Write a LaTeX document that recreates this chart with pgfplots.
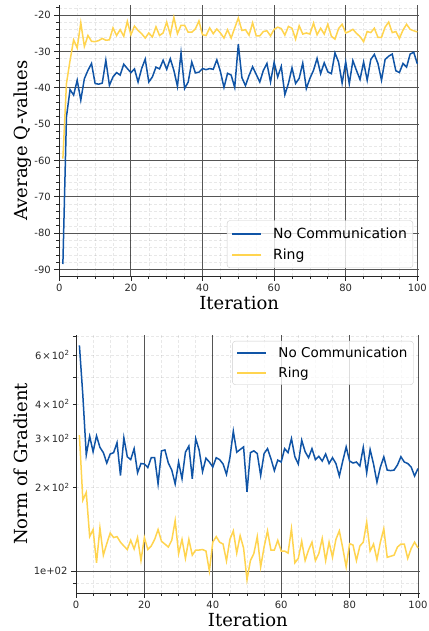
\documentclass[border=0pt]{standalone}
\usepackage{fontspec}
\setmainfont{DejaVu Sans}
\newfontfamily\labelfont{DejaVu Serif}
\usepackage{pgfplots}
\pgfplotsset{compat=1.18}
\usepackage{pgfplotstable}
\definecolor{ncblue}{RGB}{16,84,166}
\definecolor{ringyellow}{RGB}{255,212,79}
\definecolor{majgrid}{RGB}{85,85,85}
\definecolor{spine}{RGB}{40,40,40}

\pgfplotstableread{
x nc ring
1 -88.5 -59.5
2 -48 -38.8
3 -40.5 -32.5
4 -42 -26.8
5 -37.9 -29
6 -43.4 -22.1
7 -37.5 -28.6
8 -35.2 -25.6
9 -33.3 -27.2
10 -38.8 -27.3
11 -39 -27
12 -38.7 -26.4
13 -32.4 -26.9
14 -39.3 -26.8
15 -37 -23.5
16 -35.8 -25.6
17 -36.5 -24
18 -33.5 -25.8
19 -34.7 -21.7
20 -35.8 -25.4
21 -34.8 -23
22 -38.4 -24.2
23 -34.7 -25.1
24 -32.1 -26.3
25 -38.4 -24.9
26 -37 -26
27 -34.3 -23.2
28 -34.8 -25.6
29 -32.4 -24.9
30 -34.9 -21.9
31 -32 -25.4
32 -35.2 -20.6
33 -39.6 -25.1
34 -30.4 -22.8
35 -40.2 -22.8
36 -38.4 -24.7
37 -32.9 -24.7
38 -35.9 -23.8
39 -35.7 -21.6
40 -34.7 -25.4
41 -35 -25.6
42 -34.7 -23.5
43 -34.9 -25.1
44 -32.3 -23.8
45 -35.5 -24.9
46 -39.9 -26.3
47 -36 -24
48 -36.5 -26.3
49 -39.9 -23.5
50 -28 -20.8
51 -37.2 -24.2
52 -39.4 -24
53 -36.6 -25.5
54 -34.2 -22.1
55 -36.3 -25.7
56 -38.4 -25.7
57 -35.2 -24.5
58 -33.3 -24.3
59 -38.4 -25.7
60 -33 -23.9
61 -37 -23.3
62 -34.1 -23.7
63 -41.9 -25.5
64 -38.8 -23.1
65 -34.5 -23.6
66 -38.8 -26.6
67 -37.4 -22.9
68 -33.2 -25.2
69 -40.2 -24.9
70 -37.4 -25.2
71 -35.2 -22.2
72 -31.9 -25.4
73 -36.1 -23.6
74 -33.1 -25.2
75 -35.6 -22.5
76 -36.1 -25.8
77 -30.4 -26.6
78 -32.9 -23.7
79 -38.7 -22.5
80 -32.9 -24.9
81 -38.9 -24.5
82 -32.5 -23.9
83 -35.2 -25
84 -37.7 -25.9
85 -32.9 -27.3
86 -37.9 -24.5
87 -32.2 -24.8
88 -30.8 -23.6
89 -33.3 -26.1
90 -37.9 -26.1
91 -32.2 -23.3
92 -31.3 -21.9
93 -30.7 -24.8
94 -35.3 -24.5
95 -35.8 -26.4
96 -33.3 -24.1
97 -34.3 -22.5
98 -30.7 -23.9
99 -30.2 -24.3
100 -33.4 -24.6
}\qtable

\pgfplotstableread{
x nc ring
1 650 309
2 430 180
3 262 192
4 306 133
5 269 141
6 307 107
7 279 143
8 267 114
9 245 125.5
10 264 137
11 267 132
12 290 133
13 221 127
14 302 123
15 258 119.5
16 252 129
17 276 120
18 226 132
19 244 109
20 243 132
21 236 119.5
22 256 123
23 256 130
24 206 141
25 271 128
26 273 125
27 245 122
28 231 129
29 206 152
30 247 115.5
31 215 130
32 268 111
33 282 130
34 215 114
35 300 119
36 273 119
37 228 119.5
38 255 118
39 247 100
40 237 127
41 256 133
42 252 127
43 243 125
44 223 108.7
45 256 130
46 319 139.5
47 268 116
48 274 134
49 280 121
50 193 93
51 267 109
52 271 115.5
53 265 133
54 221 103.4
55 265 122
56 276 139.5
57 254 119
58 230 119
59 251 129
60 247 118
61 276 118
62 267 116
63 300 142
64 258 107
65 243 111
66 296 128
67 269 109
68 256 119
69 276 127
70 252 109
71 259 115.5
72 249 131
73 264 109
74 244 127
75 256 112
76 244 130
77 220 139.5
78 249 121
79 280 103.4
80 249 125.5
81 245 124
82 247 109
83 239 123
84 279 127
85 226 150
86 274 118
87 243 125
88 209 110
89 237 127
90 258 142
91 231 112
92 230 113
93 231 114
94 241 122
95 258 125
96 247 125
97 244 111
98 237 120.5
99 220 127
100 234 121
}\gtable

\pgfplotsset{
  mystyle/.style={
    scale only axis,
    axis x line*=bottom, axis y line*=left,
    axis line style={spine, line width=0.8pt},
    tick align=outside,
    major tick length=5pt, minor tick length=3pt,
    every tick/.style={spine, line width=0.8pt},
    grid=both,
    major grid style={majgrid, line width=0.9pt},
    minor grid style={black, draw opacity=0.09, line width=0.6pt, dash pattern=on 3pt off 2pt},
    xmin=0, xmax=100.5,
    xtick={0,20,40,60,80,100},
    xticklabels={0,20,40,60,80,100},
    minor xtick={5,10,15,25,30,35,45,50,55,65,70,75,85,90,95},
    tick label style={font=\fontsize{10}{12}\selectfont, text=spine},
    label style={font=\labelfont\fontsize{18}{21}\selectfont},
    xlabel style={yshift=3pt},
    legend style={font=\fontsize{14}{17}\selectfont, rounded corners=3pt,
      draw=black!20, fill=white, fill opacity=0.8, text opacity=1,
      inner xsep=4pt, inner ysep=5pt, row sep=5pt,
      /tikz/every odd column/.append style={column sep=9pt}},
    legend cell align=left,
    legend image code/.code={\draw[##1, solid, line width=2pt] (0pt,0pt) -- (29pt,0pt);},
    every axis plot/.append style={line width=1.5pt},
  }
}

\begin{document}
\begin{tikzpicture}
\useasboundingbox (0,0) rectangle (428pt,631pt);
\begin{axis}[mystyle,
  at={(59.3pt,355pt)}, anchor=south west,
  width=359.8pt, height=271pt,
  ymin=-91.8, ymax=-17.2,
  ytick={-90,-80,-70,-60,-50,-40,-30,-20},
  yticklabels={-90,-80,-70,-60,-50,-40,-30,-20},
  minor ytick={-88,-86,-84,-82,-78,-76,-74,-72,-68,-66,-64,-62,-58,-56,-54,-52,-48,-46,-44,-42,-38,-36,-34,-32,-28,-26,-24,-22,-18},
  xlabel={Iteration}, ylabel={Average Q-values},
  ylabel shift=-4pt,
  legend style={at={(1,0)}, anchor=south east, xshift=-6pt, yshift=8pt},
]
\addplot[ncblue] table[x=x, y=nc] {\qtable};
\addlegendentry{No Communication}
\addplot[ringyellow] table[x=x, y=ring] {\qtable};
\addlegendentry{Ring}
\end{axis}

\begin{axis}[mystyle,
  at={(76pt,38pt)}, anchor=south west,
  width=343.7pt, height=258pt,
  ymode=log, ymin=83.3, ymax=709,
  ytick={100}, yticklabels={1e+02},
  minor ytick={90,500,700},
  extra y ticks={200,300,400,600},
  extra y tick labels={2\kern0.1em×\kern0.1em10\textsuperscript{2},3\kern0.1em×\kern0.1em10\textsuperscript{2},4\kern0.1em×\kern0.1em10\textsuperscript{2},6\kern0.1em×\kern0.1em10\textsuperscript{2}},
  extra y tick style={major tick length=3pt, major grid style={black, draw opacity=0.09, line width=0.6pt, dash pattern=on 3pt off 2pt}},
  xlabel={Iteration}, ylabel={Norm of Gradient},
  ylabel shift=-9pt,
  legend style={at={(1,1)}, anchor=north east, xshift=-6pt, yshift=-6pt,
    font=\fontsize{13.5}{16}\selectfont, row sep=4pt, inner ysep=4pt},
]
\addplot[ncblue] table[x=x, y=nc] {\gtable};
\addlegendentry{No Communication}
\addplot[ringyellow] table[x=x, y=ring] {\gtable};
\addlegendentry{Ring}
\end{axis}
\end{tikzpicture}
\end{document}
